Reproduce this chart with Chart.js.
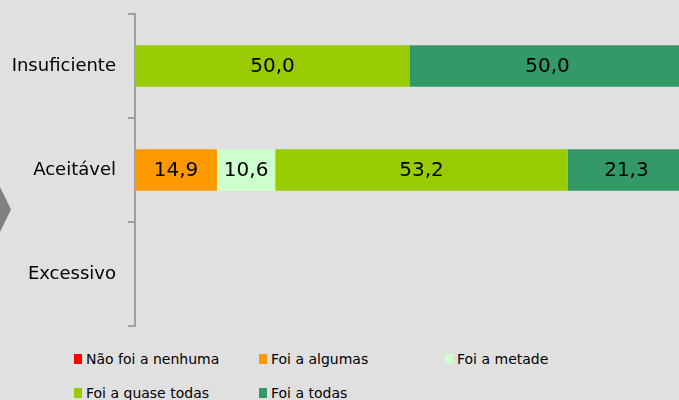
<!DOCTYPE html>
<html>
<head>
<meta charset="utf-8">
<script src="https://cdn.jsdelivr.net/npm/chart.js@4/dist/chart.umd.min.js"></script>
<style>
    body {
        margin: 0;
        width: 679px;
        height: 400px;
        overflow: hidden;
        background: #e0e0e0;
        font-family: "DejaVu Sans", sans-serif;
        position: relative;
    }
    #chartBox {
        position: absolute;
        left: 0;
        top: 0;
        width: 686px;
        height: 340px;
    }
    #arrow {
        position: absolute;
        left: 0;
        top: 187px;
        width: 11px;
        height: 45px;
        background: #808080;
        clip-path: polygon(0 0, 100% 50%, 0 100%);
    }
    #legend {
        position: absolute;
        left: 74px;
        top: 348px;
        display: grid;
        grid-template-columns: 185px 186px 185px;
        row-gap: 12px;
        font-size: 14px;
        color: #000;
    }
    .legend-item {
        display: flex;
        align-items: center;
        height: 22px;
        white-space: nowrap;
    }
    .legend-box {
        width: 8px;
        height: 10px;
        margin-right: 4px;
    }
</style>
</head>
<body>
<div id="arrow"></div>
<div id="chartBox"><canvas id="answersChart" width="686" height="340"></canvas></div>
<div id="legend"></div>

<script>
// Data
const categories = ['Insuficiente', 'Aceitável', 'Excessivo'];
const seriesNames = ['Não foi a nenhuma', 'Foi a algumas', 'Foi a metade', 'Foi a quase todas', 'Foi a todas'];
const seriesColors = ['#ff0000', '#ff9900', '#ccffcc', '#99cc00', '#339966'];
const naoFoiNenhuma = [0, 0, 0];
const foiAlgumas = [0, 14.9, 0];
const foiMetade = [0, 10.6, 0];
const foiQuaseTodas = [50.0, 53.2, 0];
const foiTodas = [50.0, 21.3, 0];
const seriesValues = [naoFoiNenhuma, foiAlgumas, foiMetade, foiQuaseTodas, foiTodas];

const axisGray = '#a0a0a0';

// Draw the numbers inside each segment
const valueLabels = {
    id: 'valueLabels',
    afterDatasetsDraw(chart) {
        const c = chart.ctx;
        c.save();
        c.font = '20px "DejaVu Sans", sans-serif';
        c.fillStyle = '#000';
        c.textAlign = 'center';
        c.textBaseline = 'middle';
        chart.data.datasets.forEach((ds, i) => {
            const meta = chart.getDatasetMeta(i);
            meta.data.forEach((bar, j) => {
                const v = ds.data[j];
                if (!v) return;
                const p = bar.getCenterPoint();
                c.fillText(v.toFixed(1).replace('.', ','), p.x, p.y + 1);
            });
        });
        c.restore();
    }
};

const answersChart = new Chart(document.getElementById('answersChart'), {
    type: 'bar',
    data: {
        labels: categories,
        datasets: seriesNames.map((name, i) => ({
            label: name,
            data: seriesValues[i],
            backgroundColor: seriesColors[i],
            borderWidth: 0,
            barPercentage: 0.4,
            categoryPercentage: 1.0
        }))
    },
    options: {
        indexAxis: 'y',
        responsive: false,
        animation: false,
        layout: { padding: { top: 14, bottom: 14, left: 0, right: 1 } },
        plugins: {
            legend: { display: false },
            tooltip: { enabled: false }
        },
        scales: {
            x: {
                stacked: true,
                min: 0,
                max: 100,
                display: false
            },
            y: {
                stacked: true,
                afterFit: (scale) => {
                    scale.width = 135;
                    scale.paddingTop = 0;
                    scale.paddingBottom = 0;
                },
                grid: {
                    drawOnChartArea: false,
                    drawTicks: true,
                    tickLength: 7,
                    color: axisGray,
                    lineWidth: 2,
                    offset: true
                },
                border: { display: true, color: axisGray, width: 2 },
                ticks: {
                    padding: 12,
                    color: '#000',
                    font: { family: '"DejaVu Sans", sans-serif', size: 18 }
                }
            }
        }
    },
    plugins: [valueLabels]
});

// HTML legend, built from the series arrays
const legendEl = document.getElementById('legend');
seriesNames.forEach((name, i) => {
    const item = document.createElement('div');
    item.className = 'legend-item';
    item.innerHTML = `<span class="legend-box" style="background:${seriesColors[i]}"></span><span>${name}</span>`;
    legendEl.appendChild(item);
});
</script>
</body>
</html>
